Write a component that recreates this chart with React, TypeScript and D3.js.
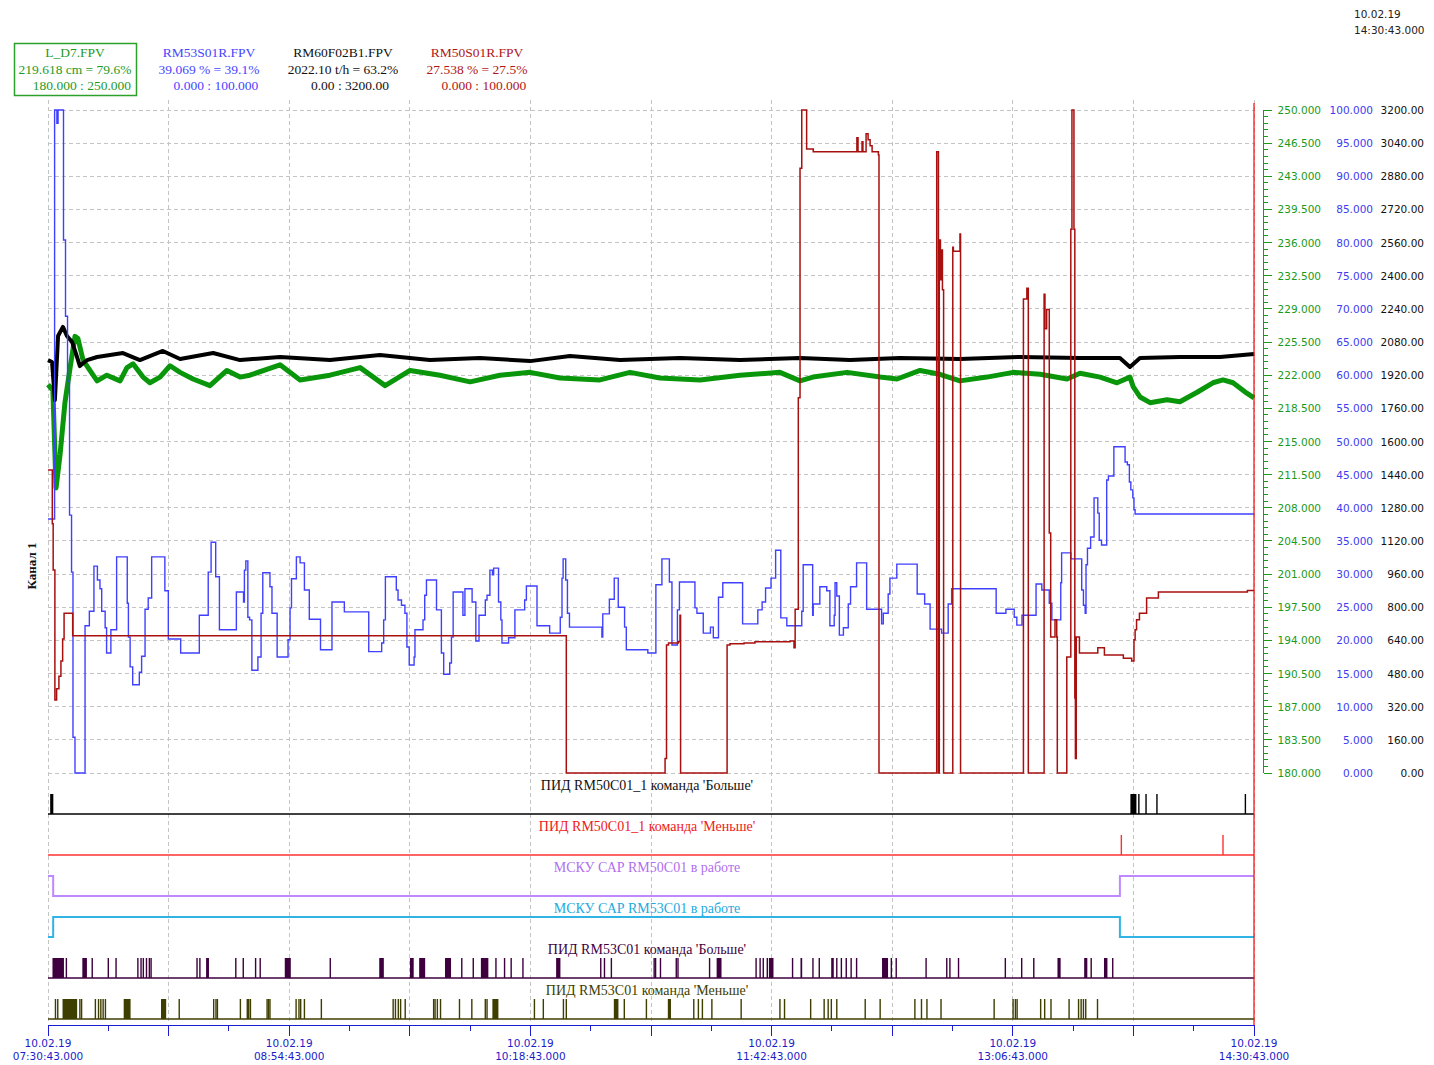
import React from "react";
import * as d3 from "d3";

type Pt = [number, number];
type Pulse = number | [number, number];

// Time window of the trend: 10.02.19 07:30:43 .. 14:30:43 (minutes from start)
const START = new Date(2019, 1, 10, 7, 30, 43);
const SPAN = 420;

// L_D7.FPV, level in cm
const levelLD7: Pt[] = [
  [0, 221.0], [1.7, 220.4], [2.8, 210.1], [4.2, 213.6], [5.9, 219.1], [7.7, 222.8], [9.4, 226.1],
  [10.4, 225.9], [12.2, 223.6], [14.6, 222.5], [17.1, 221.4], [20.5, 222.0], [25.1, 221.4],
  [27.5, 222.8], [29.6, 223.2], [33.1, 221.8], [35.5, 221.2], [39.0, 221.8], [42.5, 223.0],
  [46.0, 222.3], [50.5, 221.6], [56.4, 220.9], [62.3, 222.5], [66.9, 221.8], [70.3, 222.0],
  [80.8, 223.1], [87.8, 221.5], [98.2, 222.0], [108.7, 222.8], [117.4, 220.9], [126.1, 222.5],
  [136.5, 222.0], [147.0, 221.3], [157.4, 222.0], [167.9, 222.3], [178.3, 221.7], [192.2, 221.5],
  [202.7, 222.3], [213.1, 221.7], [227.1, 221.5], [241.0, 222.0], [254.9, 222.3], [261.9, 221.4],
  [266.4, 221.8], [278.3, 222.3], [289.8, 221.8], [295.7, 221.6], [303.7, 222.5], [310.6, 222.1],
  [317.6, 221.4], [327.0, 221.8], [336.1, 222.3], [345.5, 222.1], [354.9, 221.6], [359.4, 222.2],
  [366.4, 221.8], [372.3, 221.2], [376.8, 221.8], [377.9, 220.8], [380.3, 219.7], [383.8, 219.1],
  [389.7, 219.4], [394.2, 219.2], [400.2, 220.2], [405.7, 221.2], [409.2, 221.5], [412.7, 221.2],
  [417.5, 220.1], [420, 219.6],
];

// RM60F02B1.FPV, flow in t/h
const flowRM60F02B1: Pt[] = [
  [0, 1993], [1.4, 1984], [2.4, 1800], [3.5, 2109], [5.2, 2153], [6.6, 2109], [8.4, 2080],
  [10.1, 2008], [11.1, 1964], [13.6, 1993], [17.1, 2008], [26.1, 2027], [32.0, 1993], [40.0, 2037],
  [46.0, 1998], [57.5, 2027], [66.9, 1993], [80.8, 2008], [98.2, 1993], [115.6, 2017], [133.0, 1993],
  [150.4, 2003], [167.9, 1988], [181.8, 2013], [199.2, 1993], [220.1, 2003], [241.0, 1993],
  [261.9, 2003], [279.3, 1993], [296.7, 2003], [317.6, 1998], [338.5, 2008], [359.4, 2003],
  [373.3, 2003], [376.8, 1960], [380.3, 2003], [394.2, 2008], [408.2, 2008], [420, 2022],
];

// RM53S01R.FPV, valve position in % (each value holds until the next one)
const valveRM53S01R: Pt[] = [
  [0, 38.3], [2.3, 100], [3.1, 98.0], [3.5, 100], [5.4, 80.4], [6.1, 68.9], [6.8, 59.1], [7.5, 38.9],
  [8.2, 30.3], [8.7, 5.4], [9.4, 0], [12.9, 22.2], [14.4, 24.4], [16.0, 31.2], [17.2, 29.1],
  [18.1, 27.8], [18.7, 24.4], [19.9, 21.9], [20.4, 18.1], [21.9, 21.6], [23.9, 32.6], [27.6, 25.6],
  [28.0, 20.5], [28.6, 16.0], [29.5, 13.3], [31.8, 15.2], [32.6, 17.6], [33.8, 24.7], [34.9, 26.4],
  [36.1, 32.6], [40.7, 27.5], [41.9, 20.2], [46.2, 18.1], [52.7, 23.8], [55.8, 30.3], [56.8, 34.8],
  [58.4, 29.6], [59.7, 21.6], [65.6, 27.3], [68.1, 25.8], [68.4, 30.6], [68.9, 32.0], [69.6, 23.5],
  [70.2, 23.1], [71.0, 15.5], [73.1, 17.5], [74.2, 24.1], [74.8, 30.2], [77.3, 28.1], [78.0, 24.1],
  [79.8, 17.5], [83.6, 20.1], [84.3, 24.9], [84.8, 29.3], [86.5, 32.6], [87.8, 31.7], [89.3, 27.6],
  [91.0, 23.2], [94.9, 18.6], [98.9, 25.8], [103.2, 24.3], [111.7, 18.3], [116.2, 19.6],
  [116.9, 23.1], [117.5, 29.6], [121.3, 27.6], [121.9, 26.1], [123.1, 25.3], [124.3, 24.1],
  [125.0, 19.0], [125.8, 16.3], [127.5, 17.5], [127.8, 21.6], [130.6, 23.1], [131.2, 26.8],
  [131.8, 29.1], [135.3, 24.6], [137.0, 18.1], [137.8, 14.9], [139.9, 16.6], [140.5, 20.5],
  [141.1, 27.3], [144.5, 23.8], [145.2, 27.8], [147.7, 25.8], [149.0, 19.9], [150.1, 23.8],
  [152.3, 26.1], [152.9, 26.8], [153.9, 30.6], [154.8, 29.9], [155.2, 30.9], [156.9, 25.8],
  [157.7, 23.1], [158.1, 19.6], [160.4, 20.4], [162.6, 24.6], [166.0, 26.1], [166.6, 28.2],
  [170.3, 22.2], [174.7, 21.1], [178.4, 23.5], [179.0, 29.4], [179.4, 32.3], [180.3, 29.1],
  [180.9, 24.1], [181.6, 22.0], [192.9, 20.5], [193.2, 24.0], [195.5, 26.2], [197.2, 29.4],
  [198.6, 25.0], [200.8, 22.0], [201.4, 18.6], [208.9, 18.1], [211.7, 28.4], [213.8, 32.3],
  [216.4, 28.8], [217.3, 19.3], [219.2, 24.6], [219.9, 28.8], [225.3, 24.9], [226.0, 24.1],
  [228.2, 21.1], [230.7, 22.0], [231.7, 20.4], [233.5, 26.5], [235.0, 28.7], [241.9, 22.5],
  [247.2, 24.6], [248.7, 25.8], [249.9, 27.9], [251.8, 29.4], [253.4, 33.6], [255.2, 23.4],
  [257.3, 22.2], [262.5, 24.4], [263.0, 31.4], [266.3, 23.8], [266.5, 25.5], [268.8, 28.1],
  [271.2, 27.5], [272.3, 22.2], [273.8, 23.8], [274.1, 28.7], [274.7, 26.7], [275.6, 20.8],
  [277.0, 21.9], [278.7, 25.5], [279.5, 28.1], [281.6, 31.7], [285.1, 24.7], [290.3, 22.5],
  [290.9, 24.1], [292.6, 27.0], [293.2, 29.4], [295.6, 31.5], [302.7, 27.0], [305.3, 25.5],
  [307.2, 21.7], [311.2, 21.1], [313.5, 25.5], [314.7, 27.8], [330.2, 24.1], [333.6, 24.7],
  [336.5, 23.5], [337.4, 22.3], [339.2, 23.8], [344.1, 28.5], [346.1, 27.6], [348.7, 25.6],
  [349.6, 23.1], [352.7, 28.7], [353.0, 33.2], [356.2, 32.3], [360.0, 27.6], [360.6, 25.3],
  [361.2, 24.1], [361.5, 31.4], [362.0, 33.9], [363.1, 35.6], [364.3, 41.5], [365.6, 39.2],
  [366.1, 35.1], [366.9, 34.4], [368.7, 44.2], [369.3, 44.8], [371.2, 49.2], [375.1, 46.9],
  [375.9, 46.5], [376.6, 43.9], [377.1, 42.7], [377.8, 41.5], [378.2, 39.7], [378.6, 39.07],
];

// RM50S01R.FPV, valve position in % (each value holds until the next one)
const valveRM50S01R: Pt[] = [
  [0, 45.7], [1.5, 37.6], [1.8, 30.6], [2.4, 11.0], [3.0, 12.7], [3.8, 14.6], [4.5, 16.9], [5.1, 20.2],
  [5.6, 24.1], [8.6, 20.7], [180.5, 0], [214.9, 2.2], [215.4, 19.3], [216.1, 19.6], [219.5, 19.8],
  [220.1, 23.8], [220.3, 0], [236.5, 19.3], [237.5, 19.5], [242.4, 19.6], [246.2, 19.8], [258.4, 19.9],
  [259.8, 18.9], [260.2, 24.7], [261.3, 56.6], [261.9, 91.2], [262.5, 100], [264.2, 94.1],
  [266.5, 93.7], [281.7, 95.8], [282.1, 93.7], [283.5, 95.2], [283.8, 93.7], [284.9, 96.4],
  [285.6, 95.5], [286.3, 94.6], [287.0, 93.7], [289.2, 93.2], [289.4, 0], [309.5, 93.7], [310.1, 0],
  [310.4, 80.4], [310.8, 74.4], [311.2, 78.9], [311.5, 72.9], [311.9, 0], [315.1, 79.3], [315.3, 78.7],
  [317.6, 81.3], [317.8, 0], [339.7, 71.5], [340.9, 73.1], [341.4, 0], [346.9, 72.2], [347.2, 67.0],
  [347.8, 69.9], [348.7, 36.2], [349.2, 20.5], [350.7, 23.1], [351.3, 20.5], [351.5, 0], [354.8, 17.5],
  [356.2, 82.0], [356.6, 100], [357.3, 82.0], [357.6, 11.3], [357.8, 2.2], [358.1, 20.5], [359.2, 18.1],
  [365.6, 18.9], [367.9, 17.8], [374.5, 17.3], [377.4, 16.9], [378.2, 20.1], [378.6, 21.6],
  [379.1, 23.1], [380.1, 24.1], [382.6, 26.4], [386.7, 27.3], [417.7, 27.54],
];

// Discrete channels: pulses (single instants or [from, to]) and on/off states
const cmdUp50: Pulse[] = [[1.0, 2.1], [377.2, 379.3], 379.9, 382.4, 386.2, 417.0];
const cmdDown50: Pulse[] = [373.8, 409.2];
const auto50: Pt[] = [[0, 1], [1.8, 0], [373.3, 1]];
const auto53: Pt[] = [[0, 0], [1.8, 1], [373.3, 0]];
const cmdUp53: Pulse[] = [
  [1.8, 5.8], 6.4, [12.2, 13.8], 15.4, 21.0, 23.7, 31.3, 32.4, 33.2, 34.3, 35.3, 35.9, 51.9, 52.9,
  [55.3, 56.3], 65.4, 68.0, 72.3, 73.9, [82.7, 84.8], 98.3, [115.6, 117.2], [126.3, 127.6],
  [129.5, 131.6], [138.5, 140.6], 144.1, 148.1, [151.0, 153.6], 156.0, 159.0, 161.3, 165.4,
  [177.2, 178.7], 192.5, 193.8, 196.2, 211.1, 211.6, 213.3, 218.8, 219.4, 230.4, [233.1, 234.8],
  246.6, 248.0, 249.1, 250.5, [251.3, 252.9], 259.3, [262.3, 262.9], 266.4, 268.6, [273.0, 273.9],
  274.7, 276.3, 278.0, 279.7, 281.6, [290.7, 292.8], 293.7, 295.4, 305.8, 313.0, 314.1, 317.1,
  333.4, 339.1, [343.3, 343.8], [351.8, 352.9], [361.1, 362.2], 363.3, [368.0, 369.2], 370.8,
];
const cmdDown53: Pulse[] = [
  2.6, 3.4, [5.3, 10.4], 11.1, 11.7, 16.5, 17.6, 18.4, 19.2, 20.0, [26.6, 29.0], [39.6, 41.4], 45.7,
  57.7, 58.5, 59.0, 67.0, 69.4, 69.9, 70.5, 76.3, 76.8, 77.3, 86.4, 87.4, 88.0, 89.3, 95.2, 120.2,
  121.0, 122.0, 122.8, 124.4, 134.3, 134.8, 135.6, 136.7, 143.3, 147.6, 152.3, 152.9, [155.0, 157.1],
  169.4, 172.5, 179.5, 180.5, [197.3, 198.9], 200.7, 208.4, [216.1, 217.2], 224.9, 226.5, 227.9,
  231.2, 241.4, 254.9, 256.5, 265.6, 270.3, 271.7, 272.8, 274.7, 284.6, 289.8, 301.9, 304.2, 306.1,
  311.0, 329.5, 336.1, 336.9, 337.5, 345.7, 347.1, 349.3, 355.6, 358.9, 359.8, 360.6, 361.4, 365.5,
];

// Header legend text
const legendNames = ["L_D7.FPV", "RM53S01R.FPV", "RM60F02B1.FPV", "RM50S01R.FPV"];
const legendValues = ["219.618 cm = 79.6%", "39.069 % = 39.1%", "2022.10 t/h = 63.2%", "27.538 % = 27.5%"];
const legendRanges = ["180.000 : 250.000", "0.000 : 100.000", "0.00 : 3200.00", "0.000 : 100.000"];
const legendColors = ["#1f9a1f", "#4646ff", "#111111", "#b01616"];

const laneNames = [
  "ПИД RM50C01_1 команда 'Больше'",
  "ПИД RM50C01_1 команда 'Меньше'",
  "МСКУ САР RM50C01 в работе",
  "МСКУ САР RM53C01 в работе",
  "ПИД RM53C01 команда 'Больше'",
  "ПИД RM53C01 команда 'Меньше'",
];
const laneColors = ["#000000", "#ff3030", "#c088ff", "#30b4e6", "#3e003e", "#3e3e00"];
const laneLabelColors = ["#111111", "#f02020", "#b070f0", "#22aae0", "#3e003e", "#3e3e00"];

const SERIF = "'Liberation Serif', 'Times New Roman', serif";
const SANS = "'DejaVu Sans', Tahoma, sans-serif";

const L = 48, R = 1254, TOP = 110, BOT = 773;

const at = (m: number) => new Date(START.getTime() + m * 60000);
const x = d3.scaleTime().domain([at(0), at(SPAN)]).range([L, R]);
const xm = (m: number) => x(at(m));
const yLevel = d3.scaleLinear().domain([180, 250]).range([BOT, TOP]);
const yPct = d3.scaleLinear().domain([0, 100]).range([BOT, TOP]);
const yFlow = d3.scaleLinear().domain([0, 3200]).range([BOT, TOP]);
const laneBase = d3.scaleLinear().domain([0, 5]).range([814, 1019]);
const PULSE_H = 20;

const toEnd = (d: Pt[]): Pt[] => [...d, [SPAN, d[d.length - 1][1]]];

const lineOf = (y: (v: number) => number, step: boolean) =>
  d3
    .line<Pt>()
    .x((d) => xm(d[0]))
    .y((d) => y(d[1]))
    .curve(step ? d3.curveStepAfter : d3.curveLinear);

const fmtDate = d3.timeFormat("%d.%m.%y");
const fmtTime = d3.timeFormat("%H:%M:%S");

function PulseLane({ i, pulses }: { i: number; pulses: Pulse[] }) {
  const base = laneBase(i);
  return (
    <g>
      {pulses.map((p, k) => {
        const a = Array.isArray(p) ? p[0] : p;
        const b = Array.isArray(p) ? p[1] : p;
        const x0 = xm(a);
        const w = Math.max(1.4, xm(b) - x0);
        return <rect key={k} x={x0 - 0.7} y={base - PULSE_H} width={w} height={PULSE_H} fill={laneColors[i]} />;
      })}
      <line x1={L} x2={R} y1={base} y2={base} stroke={laneColors[i]} strokeWidth={1.5} />
    </g>
  );
}

function StateLane({ i, states }: { i: number; states: Pt[] }) {
  const base = laneBase(i);
  const ys = d3.scaleLinear().domain([0, 1]).range([base, base - PULSE_H]);
  return <path d={lineOf(ys, true)(toEnd(states)) || ""} fill="none" stroke={laneColors[i]} strokeWidth={2} />;
}

export default function App() {
  const gridMinutes = d3.range(0, SPAN + 1, 42);
  const tickMinutes = d3.range(0, SPAN + 1, 21);
  const labelMinutes = d3.range(0, SPAN + 1, 84);
  const majorIdx = d3.range(0, 21);
  const minorIdx = d3.range(0, 101);
  const legendX = [75, 209, 343, 477];

  return (
    <svg
      width={1434}
      height={1065}
      style={{ position: "absolute", left: 0, top: 0, background: "#ffffff" }}
    >
      {/* header legend */}
      <rect x={14.5} y={43.5} width={122} height={52} fill="none" stroke="#2ca02c" strokeWidth={1.5} />
      {legendNames.map((n, i) => (
        <g key={n} fill={legendColors[i]} fontFamily={SERIF} fontSize={13.5} textAnchor="middle">
          <text x={legendX[i]} y={57}>{n}</text>
          <text x={legendX[i]} y={74}>{legendValues[i]}</text>
          <text x={legendX[i] + 7} y={90}>{legendRanges[i]}</text>
        </g>
      ))}
      <g fontFamily={SANS} fontSize={10.5} fill="#222">
        <text x={1354} y={18}>{fmtDate(at(SPAN))}</text>
        <text x={1354} y={34}>{fmtTime(at(SPAN)) + ".000"}</text>
      </g>

      {/* grid */}
      <g stroke="#c4c4c4" strokeDasharray="4,3" strokeWidth={1} shapeRendering="crispEdges">
        {majorIdx.map((k) => (
          <line key={"h" + k} x1={L} x2={R} y1={yPct(k * 5)} y2={yPct(k * 5)} />
        ))}
        {gridMinutes.map((m) => (
          <line key={"v" + m} x1={xm(m)} x2={xm(m)} y1={100} y2={1024} />
        ))}
      </g>

      {/* analog channels */}
      <path d={lineOf(yLevel, false)(levelLD7) || ""} fill="none" stroke="#0a960a" strokeWidth={5} strokeLinejoin="round" />
      <path d={lineOf(yFlow, false)(flowRM60F02B1) || ""} fill="none" stroke="#000000" strokeWidth={4} strokeLinejoin="round" />
      <path d={lineOf(yPct, true)(toEnd(valveRM53S01R)) || ""} fill="none" stroke="#4040ff" strokeWidth={1.4} />
      <path d={lineOf(yPct, true)(toEnd(valveRM50S01R)) || ""} fill="none" stroke="#a81010" strokeWidth={1.5} />

      {/* discrete channels */}
      <PulseLane i={0} pulses={cmdUp50} />
      <PulseLane i={1} pulses={cmdDown50} />
      <StateLane i={2} states={auto50} />
      <StateLane i={3} states={auto53} />
      <PulseLane i={4} pulses={cmdUp53} />
      <PulseLane i={5} pulses={cmdDown53} />
      <g fontFamily={SERIF} fontSize={14} textAnchor="middle">
        {laneNames.map((n, i) => (
          <text key={n} x={647} y={laneBase(i) - 24} fill={laneLabelColors[i]}>{n}</text>
        ))}
      </g>

      {/* right boundary */}
      <line x1={R} x2={R} y1={103} y2={1025} stroke="#ff0000" strokeWidth={1.2} />

      {/* value axes on the right */}
      <g stroke="#1a9a1a" strokeWidth={1} shapeRendering="crispEdges">
        <line x1={1263.5} x2={1263.5} y1={yLevel(250)} y2={yLevel(180)} />
        {minorIdx.map((k) => (
          <line key={k} x1={1263.5} x2={k % 5 === 0 ? 1272 : 1268} y1={yLevel(180 + k * 0.7)} y2={yLevel(180 + k * 0.7)} />
        ))}
      </g>
      <g fontFamily={SANS} fontSize={10.5} textAnchor="end">
        {majorIdx.map((k) => {
          const y = yPct(k * 5) + 4;
          return (
            <g key={k}>
              <text x={1321} y={y} fill="#1a9a1a">{(180 + k * 3.5).toFixed(3)}</text>
              <text x={1373} y={y} fill="#3c3cf0">{(k * 5).toFixed(3)}</text>
              <text x={1424} y={y} fill="#111">{(k * 160).toFixed(2)}</text>
            </g>
          );
        })}
      </g>

      {/* time axis */}
      <g stroke="#1c1cd0" strokeWidth={1} shapeRendering="crispEdges">
        <line x1={L} x2={R} y1={1025.5} y2={1025.5} />
        {tickMinutes.map((m) => (
          <line key={m} x1={xm(m)} x2={xm(m)} y1={1025} y2={m % 42 === 0 ? 1036 : 1031} />
        ))}
      </g>
      <g fontFamily={SANS} fontSize={10.5} fill="#1c1cc8" textAnchor="middle">
        {labelMinutes.map((m) => (
          <g key={m}>
            <text x={xm(m)} y={1047}>{fmtDate(at(m))}</text>
            <text x={xm(m)} y={1060}>{fmtTime(at(m)) + ".000"}</text>
          </g>
        ))}
      </g>

      <text
        transform="translate(36,566) rotate(-90)"
        textAnchor="middle"
        fontFamily={SERIF}
        fontWeight="bold"
        fontSize={13}
        fill="#111"
      >
        Канал 1
      </text>
    </svg>
  );
}
